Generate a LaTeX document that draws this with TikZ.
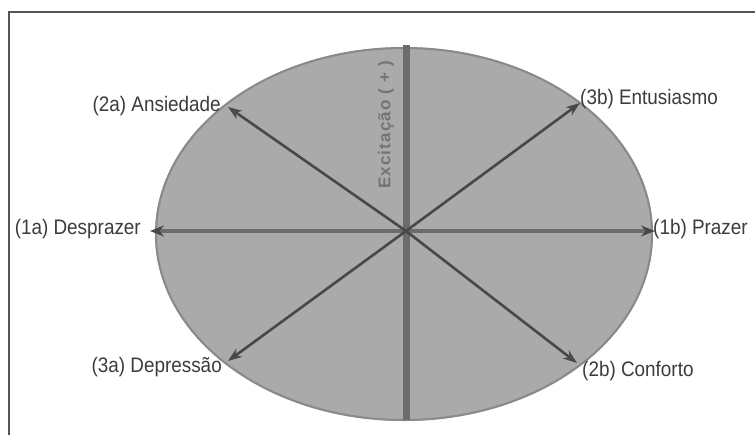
\documentclass[tikz,border=0pt]{standalone}
\usepackage{fontspec}
\setmainfont{Liberation Sans}
\newfontfamily\labfont[FakeStretch=0.9]{Liberation Sans}
\newfontfamily\axfont[LetterSpace=7]{Liberation Sans}
\usetikzlibrary{arrows.meta}
\definecolor{ellfill}{HTML}{AAAAAA}
\definecolor{ellline}{HTML}{8A8A8A}
\definecolor{framecol}{HTML}{555555}
\definecolor{raycol}{HTML}{484848}
\definecolor{axcol}{HTML}{6C6C6C}
\definecolor{labtext}{HTML}{3C3C3C}
\definecolor{axtext}{HTML}{747474}
\begin{document}
\begin{tikzpicture}[x=1pt,y=-1pt,
  lab/.style={font=\labfont\fontsize{21}{24}\selectfont, text=labtext, inner sep=0pt},
  ray/.style={draw=raycol, line width=2.6pt, -{Stealth[length=14pt,width=10pt]}},
  hray/.style={draw=axcol, line width=4.5pt, -{Stealth[length=14pt,width=11pt,color=raycol]}},
  vbar/.style={draw=axcol, line width=7pt},
  framestyle/.style={draw=framecol, line width=2pt}
]
\useasboundingbox (0,0) rectangle (755,434);
\fill[white] (0,0) rectangle (755,434);
\draw[framestyle] (9,440) -- (9,12) -- (765,12);
\fill[ellfill] (404,234) ellipse [x radius=249pt, y radius=187pt];
\draw[ellline, line width=2pt] (404,234) ellipse [x radius=248pt, y radius=186pt];

\coordinate (c) at (406,231);
\coordinate (top) at (406,45);
\coordinate (bot) at (406,420);
\coordinate (t1a) at (150,231);
\coordinate (t1b) at (655,231);
\coordinate (t2a) at (228,107);
\coordinate (t3b) at (580,103);
\coordinate (t3a) at (228,361);
\coordinate (t2b) at (577,363);

\draw[vbar] (top) -- (bot);
\node[font=\axfont\bfseries\fontsize{17}{20}\selectfont, text=axtext, rotate=90, inner sep=0pt] (ax) at (386,125) {Excitação ( + )};

\draw[hray] (c) -- (t1a);
\draw[hray] (c) -- (t1b);
\draw[ray] (c) -- (t2a);
\draw[ray] (c) -- (t3b);
\draw[ray] (c) -- (t3a);
\draw[ray] (c) -- (t2b);

\node[lab, anchor=east] (l2a) at (221,106) {(2a) Ansiedade};
\node[lab, anchor=west] (l3b) at (580,99) {(3b) Entusiasmo};
\node[lab, anchor=east] (l1a) at (141,229) {(1a) Desprazer};
\node[lab, anchor=west] (l1b) at (653,229) {(1b) Prazer};
\node[lab, anchor=east] (l3a) at (222,367) {(3a) Depressão};
\node[lab, anchor=west] (l2b) at (582,371) {(2b) Conforto};
\end{tikzpicture}
\end{document}
